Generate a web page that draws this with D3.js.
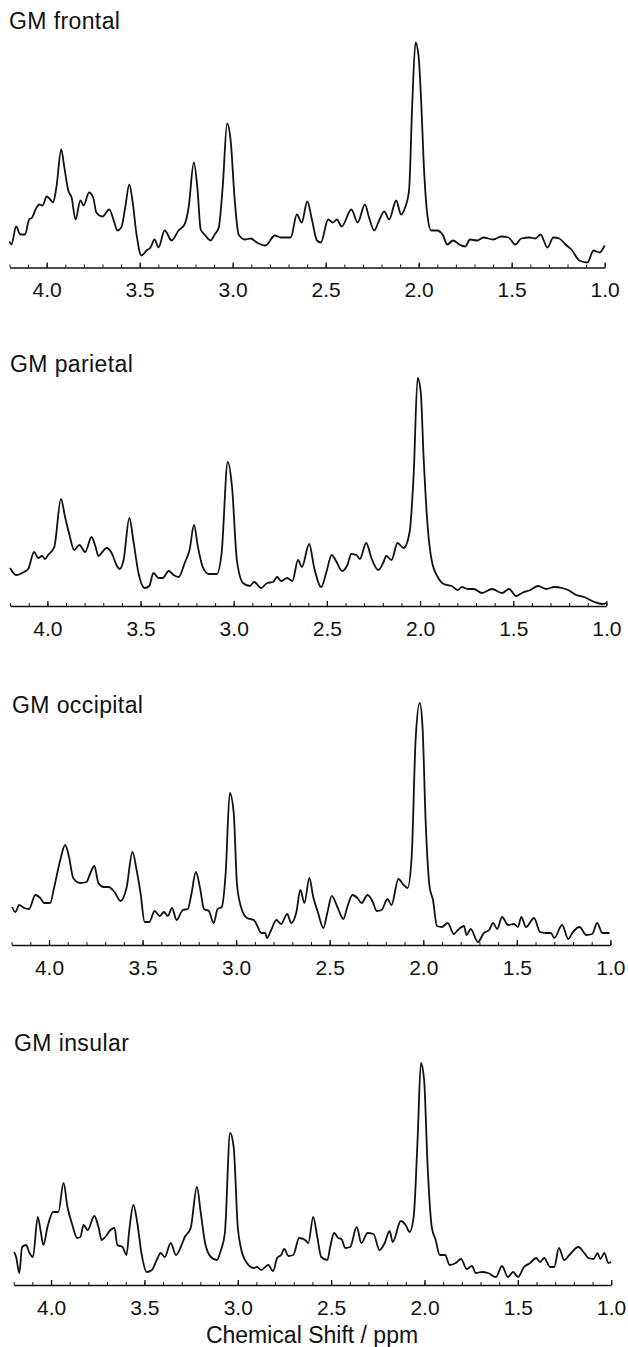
<!DOCTYPE html>
<html>
<head>
<meta charset="utf-8">
<script src="https://cdn.jsdelivr.net/npm/d3@7"></script>
<style>
  html, body { margin: 0; padding: 0; background: #fff; }
  svg { display: block; }
  text { font-family: "Liberation Sans", Arial, Helvetica, sans-serif; fill: #111; }
</style>
</head>
<body>
<div id="chart"></div>
<script>
// spectra: [ppm, intensity (a.u.)]
const titles = ["GM frontal", "GM parietal", "GM occipital", "GM insular"];
const majorTicks = [4.0, 3.5, 3.0, 2.5, 2.0, 1.5, 1.0];
const minorTicks = d3.range(42, 9, -1).map(d => d / 10);
const axisTitle = "Chemical Shift / ppm";

const frontal = [[4.20,26],[4.19,23],[4.164,41],[4.142,33],[4.116,33],[4.095,48],[4.078,50],[4.060,58],[4.039,63],[4.022,62],[4.000,71],[3.981,68],[3.966,65],[3.948,80],[3.922,118],[3.905,100],[3.884,77],[3.866,70],[3.845,48],[3.819,67],[3.802,62],[3.772,75],[3.750,70],[3.733,55],[3.700,51],[3.664,58],[3.636,45],[3.621,37],[3.599,40],[3.578,60],[3.556,83],[3.539,67],[3.517,33],[3.491,12],[3.463,17],[3.442,20],[3.420,28],[3.399,20],[3.366,37],[3.328,27],[3.291,37],[3.259,43],[3.237,60],[3.209,105],[3.190,80],[3.172,38],[3.151,33],[3.119,27],[3.097,33],[3.075,40],[3.054,80],[3.030,144],[3.011,127],[2.989,67],[2.968,33],[2.935,28],[2.903,29],[2.871,25],[2.823,22],[2.774,32],[2.741,30],[2.688,30],[2.655,53],[2.629,45],[2.599,66],[2.573,47],[2.547,27],[2.526,25],[2.487,48],[2.461,45],[2.440,48],[2.414,41],[2.362,58],[2.328,45],[2.289,63],[2.267,50],[2.239,37],[2.213,47],[2.185,56],[2.159,48],[2.121,67],[2.095,53],[2.073,60],[2.052,77],[2.034,167],[2.017,225],[2.000,210],[1.987,167],[1.970,93],[1.953,52],[1.933,37],[1.901,37],[1.869,32],[1.847,23],[1.815,27],[1.782,23],[1.750,21],[1.724,28],[1.685,27],[1.653,30],[1.599,28],[1.556,31],[1.517,30],[1.481,23],[1.448,29],[1.405,30],[1.373,29],[1.345,33],[1.308,20],[1.276,30],[1.244,29],[1.211,23],[1.179,18],[1.136,7],[1.093,5],[1.060,17],[1.028,15],[1.000,22]];

const parietal = [[4.200,38],[4.168,31],[4.125,34],[4.103,37],[4.071,54],[4.050,48],[4.028,50],[4.013,47],[3.996,51],[3.963,59],[3.927,107],[3.905,89],[3.884,73],[3.856,56],[3.828,61],[3.797,54],[3.763,69],[3.741,59],[3.726,50],[3.705,54],[3.683,58],[3.655,53],[3.629,41],[3.612,37],[3.591,46],[3.560,88],[3.539,66],[3.511,33],[3.478,18],[3.453,20],[3.431,33],[3.403,28],[3.381,28],[3.349,35],[3.323,31],[3.295,29],[3.263,43],[3.237,56],[3.213,81],[3.192,59],[3.166,39],[3.134,32],[3.091,32],[3.065,53],[3.032,144],[3.009,119],[2.983,46],[2.950,23],[2.914,20],[2.890,24],[2.853,18],[2.821,23],[2.789,24],[2.767,29],[2.746,25],[2.713,28],[2.685,25],[2.655,46],[2.634,39],[2.595,62],[2.569,39],[2.530,19],[2.504,33],[2.474,51],[2.448,44],[2.418,35],[2.390,41],[2.369,52],[2.341,51],[2.323,47],[2.289,63],[2.261,48],[2.224,36],[2.196,44],[2.181,50],[2.153,46],[2.121,63],[2.088,58],[2.056,74],[2.034,133],[2.013,228],[1.996,213],[1.981,149],[1.959,79],[1.938,46],[1.905,29],[1.873,22],[1.830,20],[1.797,16],[1.776,19],[1.744,17],[1.711,17],[1.668,13],[1.614,17],[1.560,13],[1.522,17],[1.485,10],[1.453,13],[1.409,16],[1.366,20],[1.323,17],[1.280,19],[1.237,18],[1.205,16],[1.162,11],[1.119,9],[1.065,4],[1.022,2],[1.000,3]];

const occipital = [[4.197,38],[4.180,33],[4.159,40],[4.133,37],[4.107,36],[4.073,50],[4.047,47],[4.026,42],[3.994,42],[3.972,58],[3.940,85],[3.914,100],[3.893,88],[3.871,67],[3.833,62],[3.800,63],[3.779,72],[3.758,79],[3.736,62],[3.708,58],[3.682,58],[3.650,53],[3.618,44],[3.586,57],[3.554,93],[3.532,75],[3.511,52],[3.489,23],[3.464,23],[3.436,34],[3.408,29],[3.386,33],[3.365,29],[3.343,37],[3.318,25],[3.285,35],[3.258,36],[3.240,50],[3.215,73],[3.193,57],[3.172,36],[3.146,34],[3.120,22],[3.099,36],[3.077,38],[3.056,72],[3.034,152],[3.013,132],[2.996,62],[2.974,38],[2.942,27],[2.906,25],[2.884,18],[2.867,12],[2.845,12],[2.835,7],[2.813,15],[2.785,25],[2.760,21],[2.727,31],[2.706,22],[2.678,33],[2.657,55],[2.635,42],[2.609,67],[2.588,48],[2.562,32],[2.534,17],[2.513,32],[2.489,49],[2.459,38],[2.427,26],[2.406,38],[2.378,50],[2.352,47],[2.330,42],[2.298,50],[2.270,43],[2.249,34],[2.223,35],[2.191,46],[2.170,40],[2.133,66],[2.105,60],[2.084,57],[2.062,88],[2.041,205],[2.019,242],[2.004,218],[1.987,122],[1.966,58],[1.948,45],[1.927,19],[1.901,18],[1.869,22],[1.837,11],[1.815,15],[1.783,19],[1.768,10],[1.747,16],[1.708,3],[1.676,12],[1.648,15],[1.627,22],[1.605,16],[1.579,28],[1.547,20],[1.515,21],[1.494,18],[1.476,28],[1.451,18],[1.408,27],[1.376,13],[1.343,12],[1.318,12],[1.300,7],[1.258,20],[1.225,6],[1.204,12],[1.165,18],[1.129,10],[1.097,11],[1.071,22],[1.043,12],[1.004,12]];

const insular = [[4.198,33],[4.187,28],[4.170,12],[4.155,38],[4.133,40],[4.118,33],[4.097,28],[4.071,68],[4.054,52],[4.041,40],[4.019,58],[3.989,73],[3.961,73],[3.933,102],[3.912,78],[3.886,60],[3.860,47],[3.843,48],[3.826,60],[3.804,55],[3.768,69],[3.746,58],[3.729,45],[3.710,48],[3.682,55],[3.660,57],[3.645,40],[3.617,38],[3.596,30],[3.581,55],[3.559,80],[3.538,62],[3.516,32],[3.488,13],[3.460,15],[3.434,25],[3.413,32],[3.391,28],[3.359,42],[3.331,30],[3.305,38],[3.284,48],[3.252,57],[3.219,98],[3.198,72],[3.176,43],[3.144,28],[3.112,25],[3.090,35],[3.069,52],[3.041,152],[3.022,138],[3.000,58],[2.983,37],[2.951,22],[2.914,17],[2.897,18],[2.875,15],[2.837,20],[2.811,14],[2.789,27],[2.768,30],[2.751,36],[2.729,29],[2.703,30],[2.671,47],[2.639,45],[2.622,42],[2.596,68],[2.574,48],[2.553,28],[2.520,25],[2.505,38],[2.484,52],[2.462,47],[2.445,46],[2.424,37],[2.398,38],[2.363,58],[2.338,42],[2.305,52],[2.273,51],[2.241,35],[2.213,42],[2.187,54],[2.170,43],[2.127,64],[2.101,60],[2.080,53],[2.058,68],[2.037,145],[2.019,222],[2.002,205],[1.983,118],[1.961,58],[1.940,45],[1.918,30],[1.890,30],[1.865,20],[1.832,22],[1.804,26],[1.774,16],[1.746,19],[1.725,12],[1.692,13],[1.660,12],[1.617,8],[1.585,19],[1.553,8],[1.525,13],[1.499,8],[1.467,18],[1.434,22],[1.402,27],[1.381,23],[1.359,27],[1.327,18],[1.305,18],[1.280,37],[1.252,25],[1.224,30],[1.176,38],[1.144,32],[1.123,27],[1.095,26],[1.073,32],[1.058,26],[1.037,32],[1.015,22],[1.000,23]];

const spectra = [frontal, parietal, occipital, insular];

// panel placement (the scanned panels drift a little to the right)
const panels = [
  { axisY: 267.5, x0: 9.5,  x1: 604.7, tx: 9,  ty: 29 },
  { axisY: 606,   x0: 10.1, x1: 606.4, tx: 10, ty: 372 },
  { axisY: 945,   x0: 11.6, x1: 610.4, tx: 12, ty: 713 },
  { axisY: 1285,  x0: 13.7, x1: 611.2, tx: 14, ty: 1051 }
];

const W = 628, H = 1347;
const svg = d3.select("#chart").append("svg")
  .attr("width", W).attr("height", H).attr("viewBox", `0 0 ${W} ${H}`);

panels.forEach((p, i) => {
  const x = d3.scaleLinear().domain([4.2, 1.0]).range([p.x0, p.x1]);
  const y = d3.scaleLinear().domain([0, 250]).range([p.axisY, p.axisY - 250]);
  const g = svg.append("g");

  g.append("text")
    .attr("x", p.tx).attr("y", p.ty)
    .attr("font-size", 23).attr("letter-spacing", 0.4)
    .text(titles[i]);

  // minor ticks every 0.1 ppm
  g.append("g")
    .attr("transform", `translate(0,${p.axisY})`)
    .call(d3.axisBottom(x).tickValues(minorTicks).tickSizeInner(-3).tickSizeOuter(0).tickFormat(""))
    .call(a => a.select(".domain").remove())
    .call(a => a.selectAll(".tick line").attr("stroke", "#111").attr("stroke-width", 1));

  // major ticks + labels
  g.append("g")
    .attr("transform", `translate(0,${p.axisY})`)
    .call(d3.axisBottom(x).tickValues(majorTicks).tickSizeInner(-5).tickSizeOuter(0)
      .tickPadding(15).tickFormat(d3.format(".1f")))
    .call(a => a.select(".domain").attr("stroke", "#111").attr("stroke-width", 1.6))
    .call(a => a.selectAll(".tick line").attr("stroke", "#111").attr("stroke-width", 1.3))
    .call(a => a.selectAll(".tick text")
      .attr("fill", "#111").attr("font-size", 21)
      .attr("font-family", "'Liberation Sans', Arial, Helvetica, sans-serif"));

  const line = d3.line()
    .x(d => x(d[0]))
    .y(d => y(d[1]))
    .curve(d3.curveMonotoneX);

  g.append("path")
    .datum(spectra[i])
    .attr("fill", "none")
    .attr("stroke", "#111")
    .attr("stroke-width", 1.8)
    .attr("stroke-linejoin", "round")
    .attr("d", line);
});

svg.append("text")
  .attr("x", 312).attr("y", 1343)
  .attr("text-anchor", "middle")
  .attr("font-size", 23)
  .text(axisTitle);
</script>
</body>
</html>
